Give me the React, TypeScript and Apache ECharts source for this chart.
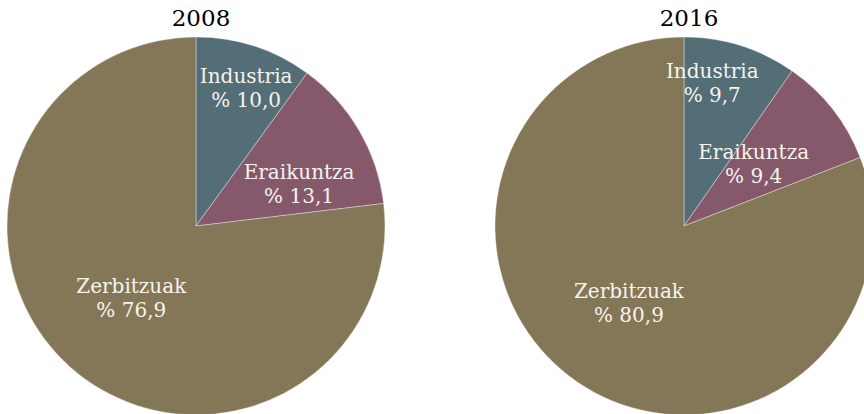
import React, { useEffect, useRef } from "react";
import * as echarts from "echarts";

const categories = ["Industria", "Eraikuntza", "Zerbitzuak"];
const years = ["2008", "2016"];
const values2008 = [10.0, 13.1, 76.9];
const values2016 = [9.7, 9.4, 80.9];

const colors = ["#546e78", "#85596b", "#837758"];
// label offsets (styling) relative to ECharts' inside position
const offsets2008 = [[20, -45], [19, 7], [0, -1]];
const offsets2016 = [[-1, -50], [-7, -2], [0, -3]];

const fmt = (v: number) => "% " + v.toFixed(1).replace(".", ",");

export default function App() {
  const ref = useRef<HTMLDivElement>(null);
  useEffect(() => {
    document.body.style.margin = "0";
    const chart = echarts.init(ref.current!, null, { renderer: "svg" });
    const font = "DejaVu Serif";
    const makeSeries = (vals: number[], offs: number[][], cx: number) => ({
      type: "pie",
      center: [cx, 226],
      radius: [0, 189],
      startAngle: 90,
      clockwise: true,
      silent: true,
      label: {
        show: true,
        position: "inside",
        color: "#f7f4ec",
        fontFamily: font,
        fontSize: 20,
        lineHeight: 24,
        formatter: (p: any) => p.name + "\n" + fmt(p.value),
      },
      labelLine: { show: false },
      itemStyle: { borderColor: "rgba(255,255,255,0.6)", borderWidth: 0.6 },
      data: vals.map((v, i) => ({
        name: categories[i],
        value: v,
        itemStyle: { color: colors[i] },
        label: { offset: offs[i] },
      })),
    });
    chart.setOption({
      animation: false,
      title: [
        { text: years[0], left: 196, top: 1, textAlign: "center", textStyle: { fontFamily: font, fontSize: 23, fontWeight: "normal", color: "#000" } },
        { text: years[1], left: 684, top: 1, textAlign: "center", textStyle: { fontFamily: font, fontSize: 23, fontWeight: "normal", color: "#000" } },
      ],
      series: [makeSeries(values2008, offsets2008, 196), makeSeries(values2016, offsets2016, 684)],
    });
    return () => chart.dispose();
  }, []);
  return <div ref={ref} style={{ width: 864, height: 414 }} />;
}
